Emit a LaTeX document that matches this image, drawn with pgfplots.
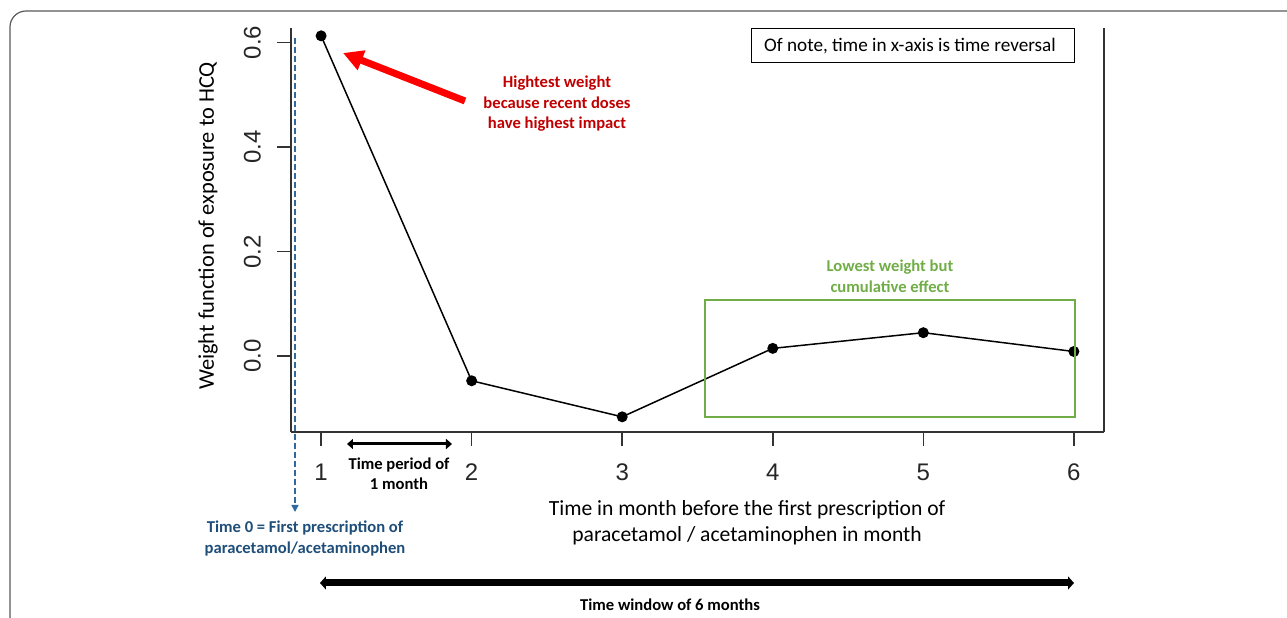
\documentclass[border=0pt]{standalone}
\usepackage{pgfplots}
\pgfplotsset{compat=1.18}
\usepackage{fontspec}
\setmainfont{Carlito}
\newfontfamily\arialfont{Liberation Sans}
\usetikzlibrary{arrows.meta}
\definecolor{hred}{HTML}{C00000}
\definecolor{gbox}{HTML}{70AD47}
\definecolor{tblue}{HTML}{1F4E79}
\definecolor{dblue}{HTML}{2E6A9E}
\definecolor{framegray}{HTML}{595959}
\definecolor{axgray}{HTML}{333333}
\begin{document}
\begin{tikzpicture}
% pixel frame: pixel (X,Y) of the 1287x612 picture
\begin{scope}[x=0.5pt,y=-0.5pt,shift={(-145.5pt,216pt)}]
\path[use as bounding box] (0,0) rectangle (1287,612);
\draw[framegray, line width=0.6pt, rounded corners=8pt] (10,700) -- (10,11) -- (1400,11);
\end{scope}
\begin{axis}[
  at={(0,0)}, anchor=south west,
  scale only axis, width=406.5pt, height=202pt,
  xmin=0.8, xmax=6.2, ymin=-0.145, ymax=0.628,
  axis x line=bottom, axis y line=left,
  axis line style={-, line width=0.75pt, axgray},
  xtick={1,2,3,4,5,6},
  ytick={0,0.2,0.4,0.6},
  yticklabels={0.0,0.2,0.4,0.6},
  tick align=outside, major tick length=7pt,
  tick style={line width=0.75pt, axgray},
  /pgf/number format/assume math mode=true,
  ticklabel style={font=\arialfont\fontsize{12}{13}\selectfont, text=black!85},
  yticklabel style={xshift=-4.5pt, rotate=90, anchor=south},
  xticklabel style={yshift=-5.5pt},
  xlabel={Time in month before the first prescription of\\paracetamol / acetaminophen in month},
  xlabel style={align=center, at={(axis description cs:0.561,-0.225)}, anchor=center, font=\fontsize{10.8}{13}\selectfont},
  ylabel={Weight function of exposure to HCQ},
  ylabel style={at={(axis description cs:-0.102,0.51)}, anchor=center, font=\fontsize{11.2}{13}\selectfont},
  clip=false,
]
\addplot[black, line width=0.75pt, mark=*, mark size=2.35pt, mark options={fill=black, solid}]
  coordinates {(1,0.613) (2,-0.047) (3,-0.116) (4,0.015) (5,0.045) (6,0.009)};
\draw[line width=0.75pt, axgray] (rel axis cs:1,0) -- (rel axis cs:1,1);
\end{axis}
\begin{scope}[x=0.5pt,y=-0.5pt,shift={(-145.5pt,216pt)}]
% blue dashed time-0 line
\draw[dblue, line width=0.75pt, dash pattern=on 3pt off 1.5pt, -{Triangle[length=3.5pt,width=3.5pt]}] (295,38) -- (295,512);
\node[tblue, font=\bfseries\fontsize{8.3}{10.5}\selectfont, align=center] at (305,538) {Time 0 = First prescription of\\paracetamol/acetaminophen};
% red arrow and text
\draw[red, line width=3.5pt, -{Triangle[length=10pt,width=10pt]}] (465,101) -- (343,53);
\node[hred, font=\bfseries\fontsize{8.3}{10.25}\selectfont, align=center] at (557,104) {Hightest weight\\because recent doses\\have highest impact};
% note box
\draw[black, line width=0.5pt] (751,29) rectangle (1074,63);
\node[font=\fontsize{9.6}{11}\selectfont] at (910,46) {Of note, time in x-axis is time reversal};
% green box
\draw[gbox, line width=0.6pt] (705,300) rectangle (1075,417);
\node[gbox, font=\bfseries\fontsize{8.3}{10.25}\selectfont, align=center] at (890,276) {Lowest weight but\\cumulative effect};
% time period arrow
\draw[black, line width=1.5pt, {Triangle[length=3pt,width=5pt]}-{Triangle[length=3pt,width=5pt]}] (347,444) -- (452,444);
\node[font=\bfseries\fontsize{8.3}{10.25}\selectfont, align=center] at (399,473.5) {Time period of\\1 month};
% time window arrow
\draw[black, line width=3.5pt, {Triangle[length=3pt,width=6.5pt]}-{Triangle[length=3pt,width=6.5pt]}] (320,583) -- (1074,583);
\node[font=\bfseries\fontsize{8.3}{10.25}\selectfont] at (670,605) {Time window of 6 months};
\end{scope}
\end{tikzpicture}
\end{document}
